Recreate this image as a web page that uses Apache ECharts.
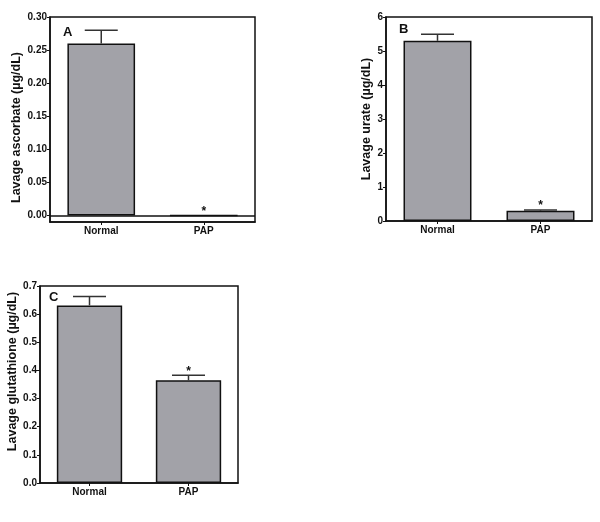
<!DOCTYPE html>
<html>
<head>
<meta charset="utf-8">
<script src="https://cdn.jsdelivr.net/npm/echarts@6/dist/echarts.min.js"></script>
<style>
  html, body { margin: 0; padding: 0; background: #fff; }
  #chart { width: 600px; height: 522px; }
</style>
</head>
<body>
<div id="chart"></div>
<script>
// groups on the x axis
var groups = ['Normal', 'PAP'];

// panel A: lavage ascorbate
var ascorbateMean = [0.26, 0];
var ascorbateSem = [0.02, 0];
var ascorbateTicks = [0, 0.05, 0.10, 0.15, 0.20, 0.25, 0.30];

// panel B: lavage urate
var urateMean = [5.3, 0.30];
var urateSem = [0.19, 0.02];
var urateTicks = [0, 1, 2, 3, 4, 5, 6];

// panel C: lavage glutathione
var glutathioneMean = [0.631, 0.365];
var glutathioneSem = [0.032, 0.018];
var glutathioneTicks = [0, 0.1, 0.2, 0.3, 0.4, 0.5, 0.6, 0.7];

// significance marks per group
var starred = [false, true];

var FONT = '"Liberation Sans", Arial, sans-serif';
var BAR_COLOR = '#a2a2a8';

var chart = echarts.init(document.getElementById('chart'), null, { renderer: 'canvas' });

function errorRender(params, api) {
  var idx = api.value(0);
  var mean = api.value(1);
  var err = api.value(2);
  var base = api.coord([idx, mean]);
  var top = api.coord([idx, mean + err]);
  var half = 16.5;
  var children = [];
  if (err > 0) {
    children.push({
      type: 'line',
      shape: { x1: base[0], y1: base[1], x2: top[0], y2: top[1] },
      style: { stroke: '#333', lineWidth: 1.5 }
    });
    children.push({
      type: 'line',
      shape: { x1: top[0] - half, y1: top[1], x2: top[0] + half, y2: top[1] },
      style: { stroke: '#333', lineWidth: 1.5 }
    });
  }
  if (starred[idx]) {
    children.push({
      type: 'text',
      x: top[0],
      y: top[1] - 4,
      style: {
        text: '*',
        fill: '#111',
        font: 'bold 12px ' + FONT,
        align: 'center',
        verticalAlign: 'middle'
      }
    });
  }
  return { type: 'group', children: children };
}

function errorData(mean, sem) {
  return mean.map(function (m, i) { return [i, m, sem[i]]; });
}

function yAxisFor(gridIndex, name, min, max, ticks, digits, nameGap, namePad) {
  return {
    gridIndex: gridIndex,
    type: 'value',
    min: min,
    max: max,
    name: name,
    nameLocation: 'middle',
    nameGap: nameGap,
    nameTextStyle: { fontFamily: FONT, fontWeight: 'bold', fontSize: 12.5, color: '#111', padding: namePad },
    axisLine: { show: true, lineStyle: { color: '#111', width: 1.5 } },
    axisTick: { show: true, length: 3, customValues: ticks, lineStyle: { color: '#111', width: 1 } },
    axisLabel: {
      customValues: ticks,
      margin: 3,
      fontFamily: FONT,
      fontWeight: 'bold',
      fontSize: 10,
      color: '#111',
      formatter: function (v) { return v.toFixed(digits); }
    },
    splitLine: { show: false }
  };
}

function xAxisFor(gridIndex) {
  return {
    gridIndex: gridIndex,
    type: 'category',
    data: groups,
    axisLine: { show: true, onZero: false, lineStyle: { color: '#111', width: 1.5 } },
    axisTick: { show: true, alignWithLabel: true, length: 3, lineStyle: { color: '#111' } },
    axisLabel: { margin: 4, fontFamily: FONT, fontWeight: 'bold', fontSize: 10, color: '#111' }
  };
}

function barSeries(i, data, withZeroLine) {
  var s = {
    type: 'bar',
    xAxisIndex: i,
    yAxisIndex: i,
    data: data,
    barWidth: '66%',
    itemStyle: { color: BAR_COLOR, borderColor: '#111', borderWidth: 1.5 },
    silent: true
  };
  if (withZeroLine) {
    s.markLine = {
      silent: true,
      symbol: 'none',
      label: { show: false },
      lineStyle: { color: '#111', type: 'solid', width: 1.5 },
      data: [{ yAxis: 0 }]
    };
  }
  return s;
}

function errorSeries(i, mean, sem) {
  return {
    type: 'custom',
    xAxisIndex: i,
    yAxisIndex: i,
    renderItem: errorRender,
    data: errorData(mean, sem),
    z: 5,
    silent: true
  };
}

var option = {
  backgroundColor: '#fff',
  animation: false,
  grid: [
    { left: 50, top: 17, width: 205, height: 205, show: true, borderColor: '#111', borderWidth: 1.5 },
    { left: 386, top: 17, width: 206, height: 204, show: true, borderColor: '#111', borderWidth: 1.5 },
    { left: 40, top: 286, width: 198, height: 197, show: true, borderColor: '#111', borderWidth: 1.5 }
  ],
  xAxis: [xAxisFor(0), xAxisFor(1), xAxisFor(2)],
  yAxis: [
    yAxisFor(0, 'Lavage ascorbate (\u00b5g/dL)', -0.01, 0.30, ascorbateTicks, 2, 27, [0, 16, 0, 0]),
    yAxisFor(1, 'Lavage urate (\u00b5g/dL)', 0, 6, urateTicks, 0, 8, 0),
    yAxisFor(2, 'Lavage glutathione (\u00b5g/dL)', 0, 0.7, glutathioneTicks, 1, 18, [0, 0, 0, 26])
  ],
  graphic: [
    { type: 'text', left: 63, top: 26, style: { text: 'A', font: 'bold 13px ' + FONT, fill: '#111' } },
    { type: 'text', left: 399, top: 23, style: { text: 'B', font: 'bold 13px ' + FONT, fill: '#111' } },
    { type: 'text', left: 49, top: 291, style: { text: 'C', font: 'bold 13px ' + FONT, fill: '#111' } }
  ],
  series: [
    barSeries(0, ascorbateMean, true),
    errorSeries(0, ascorbateMean, ascorbateSem),
    barSeries(1, urateMean, false),
    errorSeries(1, urateMean, urateSem),
    barSeries(2, glutathioneMean, false),
    errorSeries(2, glutathioneMean, glutathioneSem)
  ]
};

chart.setOption(option);
</script>
</body>
</html>
